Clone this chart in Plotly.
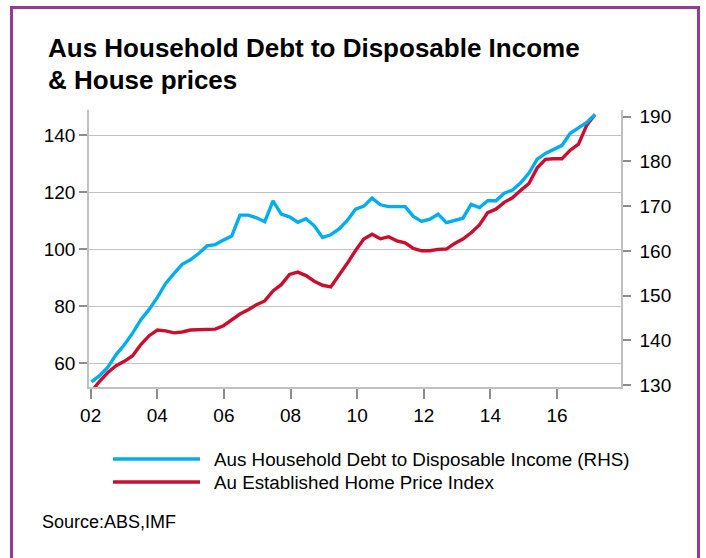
import numpy as np
import plotly.graph_objects as go

# Quarterly observations, 2002 Q1 to 2017 Q1, placed at decimal-year positions
quarter_pos = np.linspace(2002.02, 2017.14, 62)

# Household debt to disposable income (right-hand scale)
debt_to_income = [
    130.7, 132.1, 134.0, 136.8, 139.0, 141.6, 144.6, 146.9, 149.6, 152.7,
    154.9, 157.0, 158.0, 159.4, 161.1, 161.4, 162.4, 163.3, 168.0, 168.0,
    167.4, 166.5, 171.2, 168.2, 167.6, 166.4, 167.2, 165.6, 163.0, 163.6,
    164.9, 166.8, 169.3, 170.0, 171.8, 170.3, 169.9, 169.9, 169.9, 167.7,
    166.6, 167.1, 168.2, 166.3, 166.8, 167.3, 170.4, 169.7, 171.2, 171.2,
    172.9, 173.6, 175.2, 177.4, 180.5, 181.8, 182.7, 183.6, 186.3, 187.6,
    188.7, 190.5,
]

# Established home price index (left-hand scale)
home_price = [
    50.0, 53.6, 56.7, 59.1, 60.6, 62.6, 66.5, 69.6, 71.6, 71.3,
    70.6, 70.9, 71.6, 71.6, 71.6, 71.9, 73.1, 75.3, 77.2, 78.7,
    80.5, 81.8, 85.3, 87.5, 91.1, 91.9, 90.7, 88.7, 87.3, 86.7,
    90.7, 95.0, 99.5, 103.5, 105.2, 103.6, 104.3, 102.9, 102.2, 100.2,
    99.4, 99.4, 99.9, 100.0, 102.0, 103.5, 105.7, 108.5, 112.8, 114.0,
    116.4, 118.0, 120.6, 123.0, 128.5, 131.5, 131.7, 131.7, 134.7, 136.8,
    143.5, 147.2,
]

year_ticks = [2002, 2004, 2006, 2008, 2010, 2012, 2014, 2016]
year_labels = ["02", "04", "06", "08", "10", "12", "14", "16"]
left_ticks = [60, 80, 100, 120, 140]
right_ticks = [130, 140, 150, 160, 170, 180, 190]

series_names = [
    "Aus Household Debt to Disposable Income (RHS)",
    "Au Established Home Price Index",
]
title_lines = ["Aus Household Debt to Disposable Income", "& House prices"]
source_text = "Source:ABS,IMF"

BLUE = "#00aeef"
RED = "#c8102e"
PURPLE = "#953b93"
GRID = "#c0c0c0"
FONT = "Liberation Sans, Arial, sans-serif"

W, H = 706, 558
L, R, T, B = 89, 85, 110, 171
plot_w = W - L - R
plot_h = H - T - B


def px(x):
    """Page pixel x -> paper coordinate."""
    return (x - L) / plot_w


def py(y):
    """Page pixel y (from top) -> paper coordinate."""
    return (H - B - y) / plot_h


fig = go.Figure()

fig.add_trace(go.Scatter(
    x=quarter_pos, y=debt_to_income, yaxis="y2", mode="lines",
    line=dict(color=BLUE, width=3.4), name=series_names[0], showlegend=False,
))
fig.add_trace(go.Scatter(
    x=quarter_pos, y=home_price, yaxis="y", mode="lines",
    line=dict(color=RED, width=3.4), name=series_names[1], showlegend=False,
))

shapes = [
    # outer frame
    dict(type="rect", xref="paper", yref="paper",
         x0=px(11.5), x1=px(698.5), y0=py(570), y1=py(7.5),
         line=dict(color=PURPLE, width=3), fillcolor="rgba(0,0,0,0)", layer="below"),
    # legend keys
    dict(type="line", xref="paper", yref="paper",
         x0=px(113), x1=px(200), y0=py(459), y1=py(459),
         line=dict(color=BLUE, width=3.6)),
    dict(type="line", xref="paper", yref="paper",
         x0=px(113), x1=px(200), y0=py(482), y1=py(482),
         line=dict(color=RED, width=3.6)),
]

annotations = [
    dict(text="<b>" + title_lines[0] + "</b>", x=px(46), y=py(48),
         xanchor="left", yanchor="middle", font=dict(size=26, color="#000", family=FONT)),
    dict(text="<b>" + title_lines[1] + "</b>", x=px(46), y=py(79.5),
         xanchor="left", yanchor="middle", font=dict(size=26, color="#000", family=FONT)),
    dict(text=series_names[0], x=px(212), y=py(459),
         xanchor="left", yanchor="middle", font=dict(size=18.8, color="#000", family=FONT)),
    dict(text=series_names[1], x=px(212), y=py(482),
         xanchor="left", yanchor="middle", font=dict(size=18.8, color="#000", family=FONT)),
    dict(text=source_text, x=px(40), y=py(522),
         xanchor="left", yanchor="middle", font=dict(size=18, color="#000", family=FONT)),
]
for a in annotations:
    a.update(xref="paper", yref="paper", showarrow=False)

axis_common = dict(
    ticks="outside", tickcolor="#8c8c8c", tickwidth=1.5,
    showline=True, linecolor=GRID, linewidth=1.5,
    zeroline=False, tickfont=dict(size=19, color="#000", family=FONT),
)

fig.update_layout(
    width=W, height=H,
    margin=dict(l=L, r=R, t=T, b=B),
    paper_bgcolor="white", plot_bgcolor="white",
    font=dict(family=FONT, color="#000"),
    showlegend=False,
    xaxis=dict(range=[2001.95, 2017.92], tickvals=year_ticks, ticktext=year_labels,
               ticklen=10, showgrid=False, **axis_common),
    yaxis=dict(range=[51.6, 148.8], tickvals=left_ticks, ticklen=8,
               showgrid=True, gridcolor=GRID, gridwidth=1.3, **axis_common),
    yaxis2=dict(range=[129.55, 191.5], tickvals=right_ticks, ticklen=8,
                ticklabelstandoff=5,
                overlaying="y", side="right", showgrid=False, **axis_common),
    shapes=shapes,
    annotations=annotations,
)

fig.write_html("out.html")
